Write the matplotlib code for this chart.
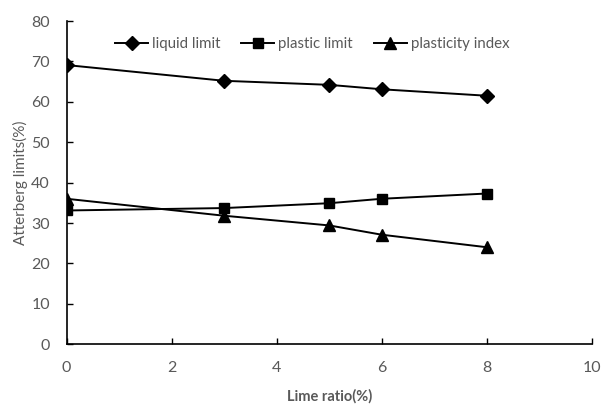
import matplotlib
matplotlib.use("Agg")
import matplotlib.pyplot as plt

# Данные
lime_ratio = [0, 3, 5, 6, 8]
liquid_limit = [69.1, 65.2, 64.2, 63.1, 61.5]
plastic_limit = [33.1, 33.7, 34.9, 36.0, 37.3]
plasticity_index = [36.0, 31.8, 29.4, 27.1, 24.0]

x_ticks = [0, 2, 4, 6, 8, 10]
y_ticks = [0, 10, 20, 30, 40, 50, 60, 70, 80]

plt.rcParams["font.family"] = ["Lato", "DejaVu Sans"]
TEXT_GRAY = "#595959"

fig = plt.figure(figsize=(6.16, 4.04), dpi=100)
ax = fig.add_axes([0.108, 0.148, 0.853, 0.8])

ax.plot(lime_ratio, liquid_limit, color="black", lw=1.4, marker="D", ms=7,
        label="liquid limit")
ax.plot(lime_ratio, plastic_limit, color="black", lw=1.4, marker="s", ms=7.5,
        label="plastic limit")
ax.plot(lime_ratio, plasticity_index, color="black", lw=1.4, marker="^", ms=8.5,
        label="plasticity index")

ax.set_xlim(0, 10)
ax.set_ylim(0, 80)
ax.set_xticks(x_ticks)
ax.set_yticks(y_ticks)
ax.tick_params(direction="in", length=4, width=1, labelsize=11.5,
               labelcolor=TEXT_GRAY)
ax.tick_params(axis="x", pad=12)
ax.tick_params(axis="y", pad=12)
for s in ("top", "right"):
    ax.spines[s].set_visible(False)
for s in ("left", "bottom"):
    ax.spines[s].set_linewidth(1.2)

ax.set_xlabel("Lime ratio(%)", fontsize=10.5, fontweight="bold",
              color=TEXT_GRAY)
ax.set_ylabel("Atterberg limits(%)", fontsize=11, color=TEXT_GRAY)
ax.xaxis.set_label_coords(0.5, -0.14)
ax.yaxis.set_label_coords(-0.074, 0.5)

leg = ax.legend(loc="upper left", bbox_to_anchor=(0.067, 0.992), ncol=3,
                frameon=False, fontsize=10.8, handlelength=2.2,
                handletextpad=0.25, columnspacing=1.4)
for t in leg.get_texts():
    t.set_color(TEXT_GRAY)

fig.savefig("out.png", dpi=100)
